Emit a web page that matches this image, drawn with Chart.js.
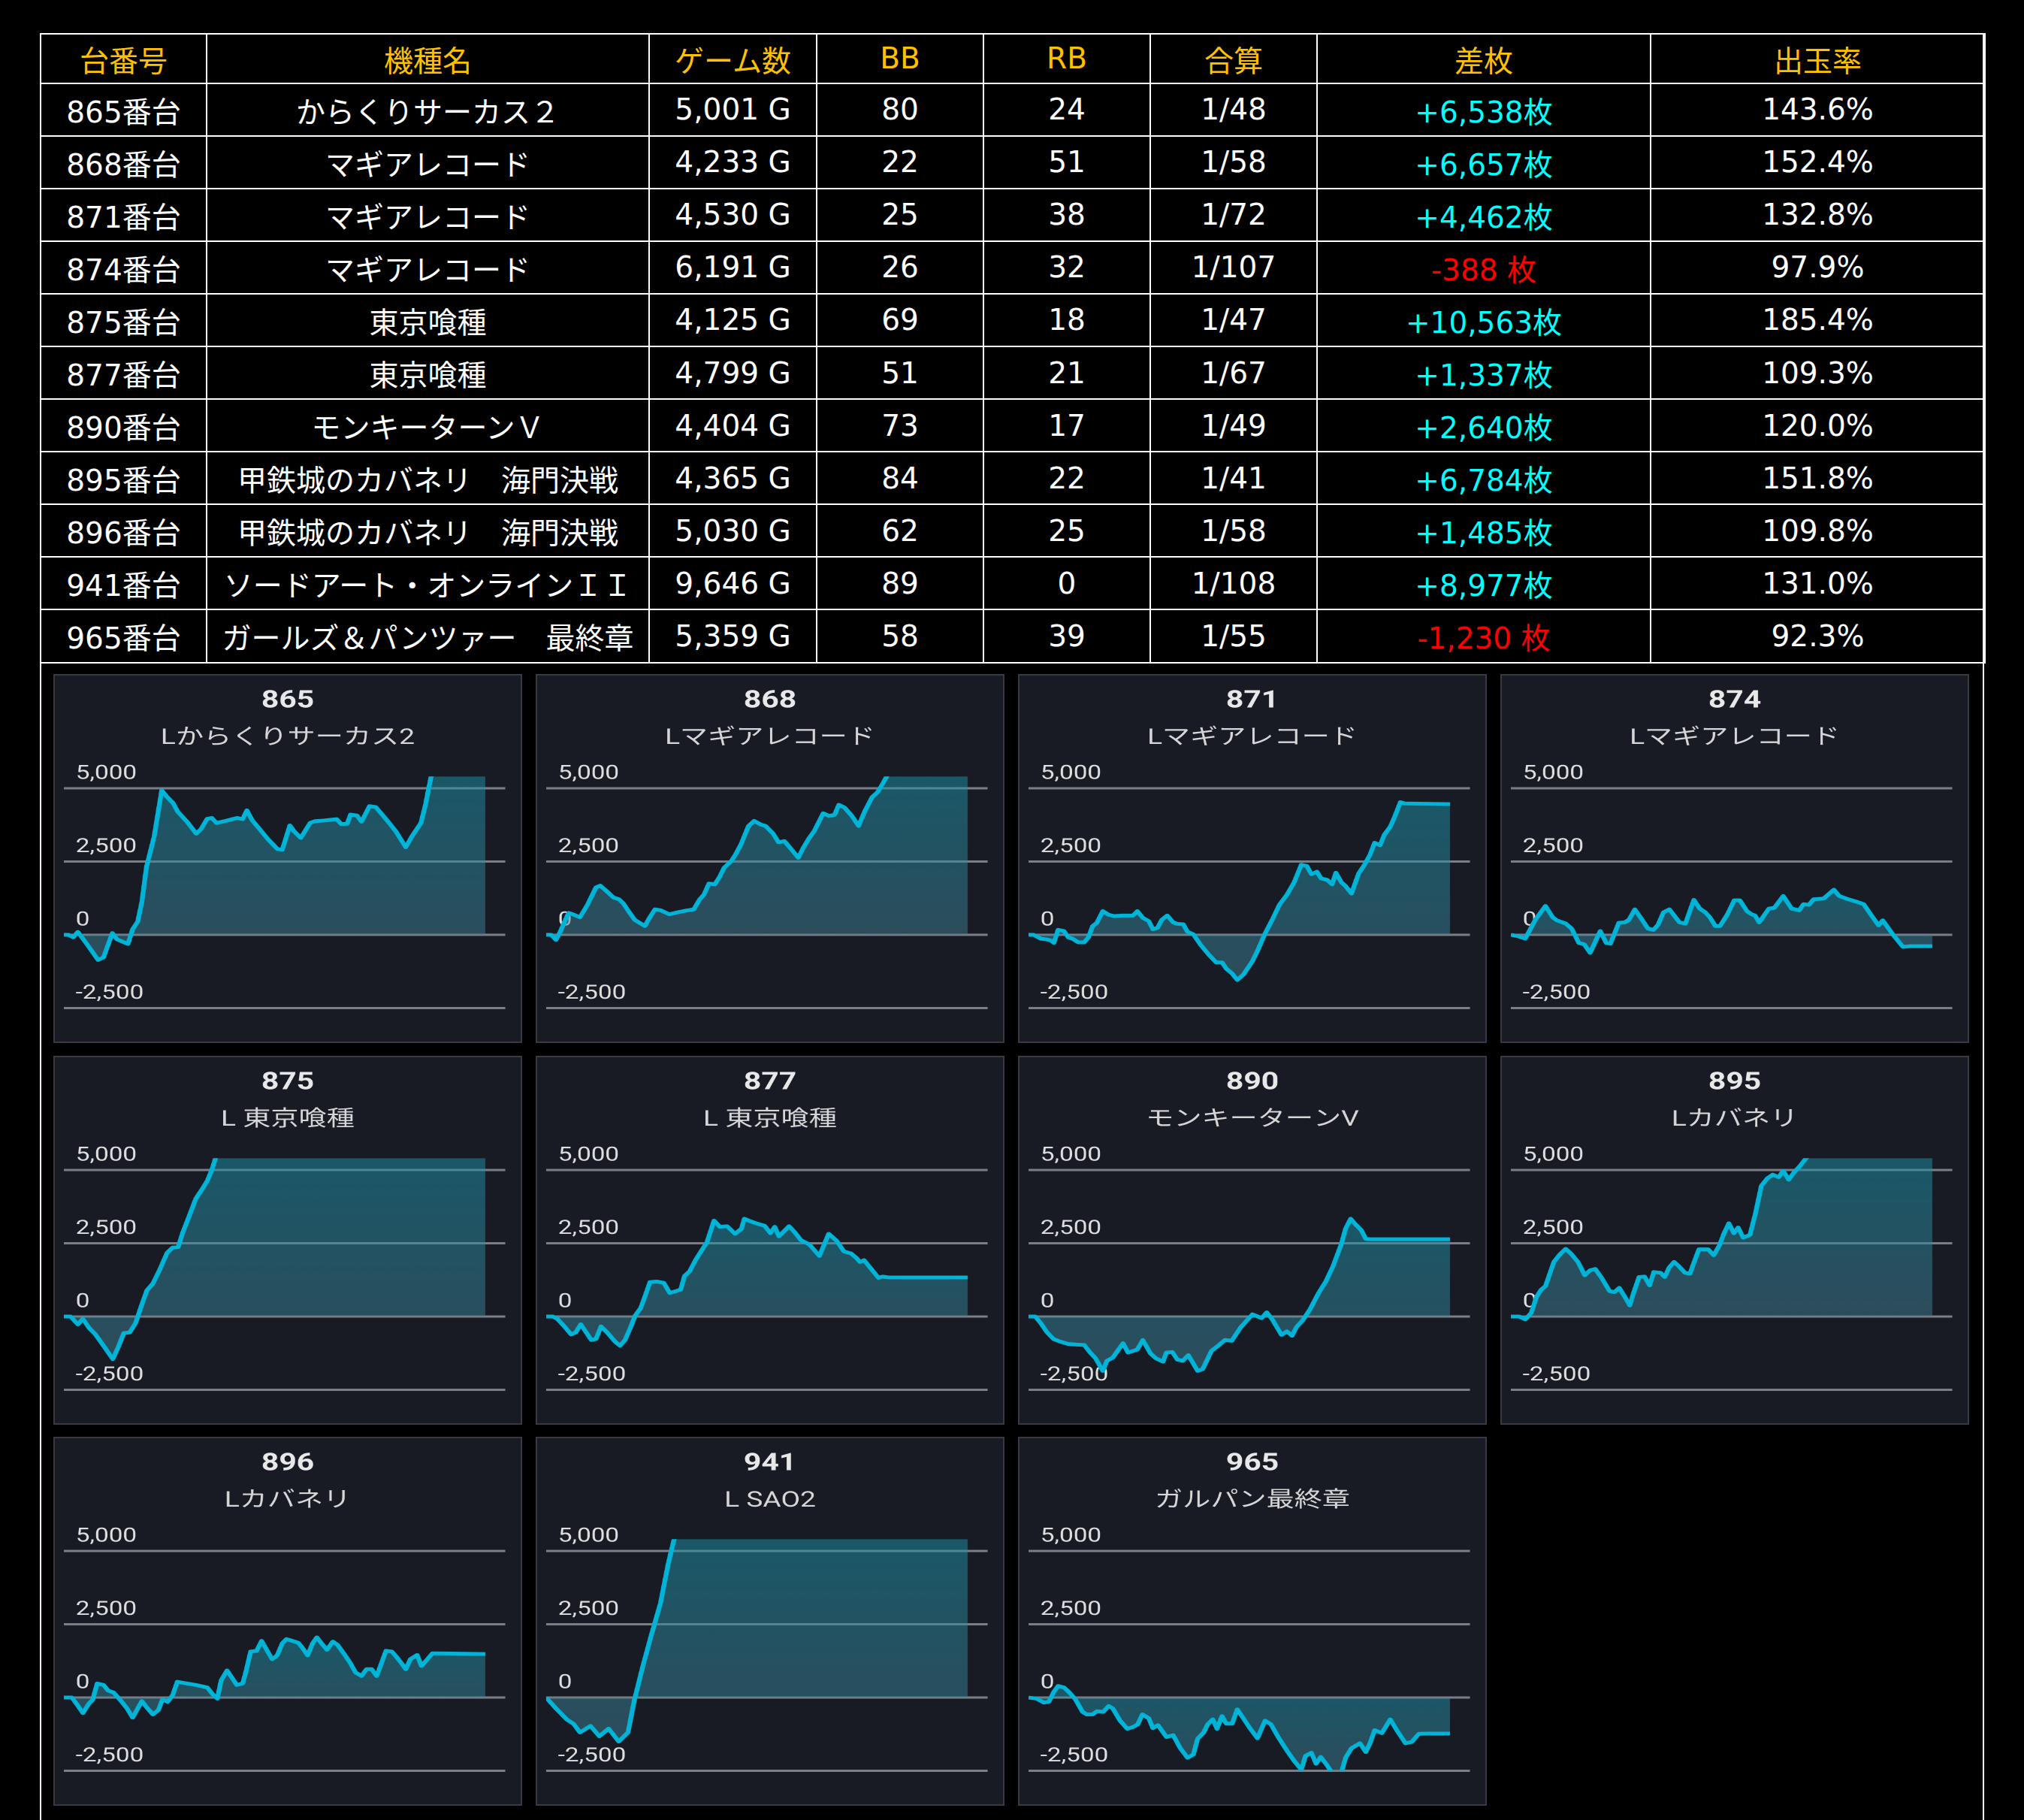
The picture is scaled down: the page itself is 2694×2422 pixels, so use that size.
<!DOCTYPE html>
<html><head><meta charset="utf-8">
<script src="https://cdn.jsdelivr.net/npm/chart.js@4.4.1/dist/chart.umd.min.js"></script>
<style>
html,body{margin:0;padding:0;background:#000;width:2694px;height:2422px;overflow:hidden;}
#tbl{position:absolute;left:53px;top:44px;width:2588px;border-collapse:collapse;table-layout:fixed;font-family:"DejaVu Sans","Noto Sans CJK JP",sans-serif;font-size:39px;color:#fff;}
#tbl td,#tbl th{border:2px solid #fff;text-align:center;vertical-align:middle;padding:0;white-space:nowrap;font-weight:normal;overflow:hidden;}
#tbl th{color:#ffc000;}
#tbl thead tr{height:65.5px;}
#tbl tbody tr{height:70.1px;}
.pos{color:#00ffff;}
.neg{color:#ff0000;}
.vline{position:absolute;top:44px;width:2px;height:2400px;background:#fff;}
.panel{position:absolute;width:624px;height:491px;background:#181b24;border:2px solid #373a43;box-sizing:border-box;overflow:hidden;}
.inner{position:absolute;left:0;top:0;width:484px;height:487px;transform:scaleX(1.281);transform-origin:0 0;}
</style></head><body>
<table id="tbl">
<colgroup><col style="width:221px"><col style="width:589px"><col style="width:223px"><col style="width:222px"><col style="width:222px"><col style="width:222px"><col style="width:444px"><col style="width:445px"></colgroup>
<thead><tr id="hdr"></tr></thead><tbody id="body"></tbody></table>
<div class="vline" style="left:53px"></div>
<div class="vline" style="left:2639px"></div>
<div id="panels"></div>
<script>
// ---------- table data ----------
const headers = ['台番号','機種名','ゲーム数','BB','RB','合算','差枚','出玉率'];
const machineNos = ['865番台','868番台','871番台','874番台','875番台','877番台','890番台','895番台','896番台','941番台','965番台'];
const modelNames = ['からくりサーカス２','マギアレコード','マギアレコード','マギアレコード','東京喰種','東京喰種','モンキーターンＶ','甲鉄城のカバネリ　海門決戦','甲鉄城のカバネリ　海門決戦','ソードアート・オンラインＩＩ','ガールズ＆パンツァー　最終章'];
const gameCounts = [5001,4233,4530,6191,4125,4799,4404,4365,5030,9646,5359];
const bbCounts = [80,22,25,26,69,51,73,84,62,89,58];
const rbCounts = [24,51,38,32,18,21,17,22,25,0,39];
const combinedOdds = ['1/48','1/58','1/72','1/107','1/47','1/67','1/49','1/41','1/58','1/108','1/55'];
const diffCoins = [6538,6657,4462,-388,10563,1337,2640,6784,1485,8977,-1230];
const payoutRates = [143.6,152.4,132.8,97.9,185.4,109.3,120.0,151.8,109.8,131.0,92.3];

// ---------- chart data ----------
const chartIds = ['865','868','871','874','875','877','890','895','896','941','965'];
const chartSubtitles = ['Lからくりサーカス2','Lマギアレコード','Lマギアレコード','Lマギアレコード','L 東京喰種','L 東京喰種','モンキーターンV','Lカバネリ','Lカバネリ','L SAO2','ガルパン最終章'];
const yTicks = [-2500, 0, 2500, 5000];
// [progress %, 差枚]
const s865 = [[0,0],[1.1,0],[2.2,-85],[3.3,100],[5.5,-325],[8.1,-855],[9.4,-770],[11.5,60],[12.6,-155],[15.2,-310],[16.3,190],[17.5,445],[18.5,1130],[19.6,2325],[21.4,3350],[23.2,4930],[24.4,4720],[25.9,4500],[27.0,4205],[29.2,3865],[31.4,3455],[32.5,3605],[34.0,3965],[35.1,3990],[36.2,3820],[38.1,3880],[39.9,3950],[41.1,3990],[42.4,3950],[43.4,4250],[44.7,3905],[46.2,3650],[48.4,3265],[50.7,2925],[51.8,2905],[53.6,3735],[54.7,3520],[56.2,3310],[58.4,3820],[59.5,3880],[61.8,3905],[64.7,3950],[65.8,3780],[67.2,3795],[68.0,4105],[69.5,4075],[70.6,3865],[72.5,4395],[74.0,4360],[76.9,3865],[78.8,3520],[81.1,2990],[82.5,3350],[84.7,3820],[85.8,4460],[86.5,4975],[87.1,5400],[89.1,5900],[92.1,6200],[95.8,6400],[100,6538]];
const s868 = [[0,0],[1.2,0],[2.3,-170],[3.3,100],[5.3,750],[6.3,700],[8.0,600],[9.8,1030],[11.8,1620],[12.8,1680],[14.5,1470],[15.9,1280],[17.3,1210],[18.3,1070],[19.6,790],[21.0,510],[23.4,300],[24.4,560],[25.8,870],[27.1,840],[29.2,700],[31.2,770],[33.3,830],[35.0,870],[36.4,1210],[37.4,1370],[38.6,1750],[40.0,1730],[41.1,1970],[42.2,2290],[43.9,2520],[44.9,2740],[46.2,3090],[48.0,3720],[49.3,3890],[51.0,3760],[52.0,3720],[53.8,3460],[55.1,3160],[56.5,3200],[58.2,2910],[59.8,2630],[60.9,2950],[62.3,3290],[63.6,3550],[65.7,4150],[67.1,4060],[68.4,4100],[69.4,4440],[70.8,4340],[72.5,4060],[74.1,3720],[75.6,4230],[77.3,4700],[78.6,4870],[79.7,5130],[81.0,5470],[83.8,5800],[87.9,6100],[92.0,6400],[96.0,6550],[100,6657]];
const s871 = [[0,0],[1.2,0],[2.9,-130],[4.3,-155],[5.3,-195],[6.0,-275],[7.0,170],[8.4,130],[9.4,-85],[10.4,-130],[11.8,-255],[13.2,-255],[14.2,-85],[15.2,300],[16.2,410],[17.6,810],[19.0,685],[20.3,640],[22.4,660],[24.8,660],[25.8,810],[27.1,580],[28.5,470],[29.5,190],[30.6,240],[31.6,515],[32.9,660],[34.3,425],[35.3,375],[36.7,360],[37.7,105],[39.1,15],[40.8,-340],[42.8,-685],[44.5,-940],[45.9,-940],[46.9,-1155],[48.3,-1325],[49.5,-1540],[51.0,-1350],[53.1,-900],[54.4,-515],[56.1,45],[57.8,515],[59.5,1025],[61.3,1370],[63.0,1795],[64.7,2395],[66.0,2350],[67.1,2070],[68.4,2155],[69.4,1925],[70.8,1880],[72.0,1725],[72.9,2120],[74.2,1795],[75.2,1665],[76.6,1410],[78.3,2095],[79.7,2395],[81.0,2735],[82.1,3145],[83.4,3060],[84.4,3420],[85.8,3690],[86.8,4015],[88.2,4530],[89.2,4485],[100,4462]];
const s874 = [[0,0],[1.7,-45],[3.4,-130],[5.8,515],[8.2,985],[9.9,600],[10.9,495],[13.0,385],[14.4,215],[16.1,-275],[17.4,-325],[18.8,-615],[21.2,130],[22.6,-275],[23.6,-300],[25.6,410],[27.0,425],[28.0,515],[29.4,870],[31.1,515],[32.5,215],[33.8,170],[34.9,340],[36.2,770],[37.6,870],[40.0,425],[41.4,385],[43.4,1195],[44.8,895],[46.1,770],[47.2,600],[48.5,300],[49.6,300],[51.3,685],[53.0,1180],[54.3,1180],[56.0,810],[57.1,700],[57.9,660],[58.9,425],[61.2,895],[62.5,925],[64.6,1325],[66.6,895],[68.4,840],[69.4,1045],[70.7,1025],[71.8,1215],[74.2,1240],[76.6,1540],[77.9,1325],[80.0,1215],[82.0,1130],[83.7,1045],[85.1,750],[87.2,325],[88.2,495],[90.6,15],[93.0,-410],[94.7,-388],[100,-388]];
const s875 = [[0,0],[1.6,0],[3.3,-265],[4.5,-75],[6.0,-395],[7.4,-595],[9.4,-995],[11.6,-1450],[12.9,-1040],[14.2,-565],[15.6,-540],[17.0,-225],[18.3,335],[19.7,895],[21.1,1125],[22.8,1625],[24.5,2180],[25.8,2355],[27.1,2370],[28.2,2870],[29.6,3385],[31.3,4030],[32.7,4330],[34.0,4630],[35.1,5015],[36.0,5420],[37.5,6500],[40.2,7800],[47.0,9200],[60.7,10000],[100,10563]];
const s877 = [[0,0],[1.6,0],[2.6,-75],[4.3,-335],[5.9,-610],[7.0,-540],[8.2,-265],[9.4,-525],[10.7,-800],[11.8,-765],[13.0,-335],[14.6,-565],[16.3,-850],[17.5,-995],[18.7,-800],[20.0,-370],[21.1,35],[22.4,290],[23.4,680],[24.6,1175],[26.2,1195],[27.9,1150],[29.3,805],[30.8,870],[31.9,920],[32.8,1385],[34.0,1540],[35.4,1925],[37.1,2310],[38.1,2525],[39.8,3275],[41.2,3065],[42.9,3085],[44.8,2825],[46.3,3000],[47.0,3340],[48.4,3255],[50.1,3170],[51.8,3100],[53.2,2845],[54.2,3065],[55.2,2740],[57.6,3085],[59.0,2870],[60.4,2610],[62.4,2465],[64.8,2070],[67.0,2825],[68.9,2585],[70.6,2225],[72.3,2155],[73.7,1985],[74.4,1865],[75.4,1925],[77.1,1625],[78.8,1325],[79.8,1365],[81.2,1337],[100,1337]];
const s890 = [[0,0],[1.6,0],[2.9,-225],[4.3,-525],[5.9,-765],[7.4,-850],[9.4,-935],[11.1,-955],[13.2,-970],[14.5,-1210],[15.9,-1425],[17.6,-1855],[18.6,-1510],[20.0,-1400],[22.4,-910],[23.6,-1230],[25.8,-1125],[27.1,-800],[28.9,-1255],[30.2,-1425],[31.9,-1540],[32.7,-1230],[34.1,-1210],[35.3,-1470],[36.6,-1510],[37.9,-1315],[40.1,-1855],[41.3,-1795],[43.4,-1170],[45.0,-995],[46.6,-800],[48.2,-825],[50.3,-370],[53.1,75],[55.3,-50],[56.5,145],[57.8,-95],[60.0,-625],[61.3,-505],[62.5,-655],[63.6,-350],[65.0,-135],[66.7,230],[68.8,805],[70.5,1195],[72.2,1710],[74.2,2480],[75.2,3000],[76.4,3340],[77.5,3155],[78.9,2955],[80.0,2655],[81.0,2640],[100,2640]];
const s895 = [[0,0],[2.0,0],[3.4,-95],[4.8,120],[6.1,680],[7.2,920],[8.2,1040],[10.2,1865],[11.6,2120],[13.0,2310],[14.3,2140],[15.9,1865],[17.5,1410],[18.8,1580],[20.0,1625],[21.5,1325],[23.4,870],[24.6,835],[25.7,980],[27.0,680],[28.2,380],[29.1,805],[30.4,1350],[31.7,1365],[32.9,1065],[33.9,1520],[35.5,1495],[36.5,1350],[37.5,1665],[38.7,1865],[39.9,1710],[41.3,1495],[42.5,1470],[43.3,1795],[44.6,2295],[46.8,2295],[48.1,2095],[49.5,2440],[50.5,2825],[51.7,3185],[52.9,2845],[53.9,3040],[55.1,2695],[56.7,2785],[58.0,3515],[59.4,4460],[60.8,4715],[62.1,4845],[63.5,4760],[64.6,4975],[65.9,4675],[67.2,4930],[68.6,5145],[70.0,5405],[72.7,5800],[76.8,6200],[82.3,6500],[89.1,6700],[100,6784]];
const s896 = [[0,0],[1.9,0],[3.3,-275],[4.5,-530],[6.0,-190],[6.8,-85],[7.9,480],[9.4,430],[10.5,240],[11.8,170],[13.5,-105],[15.0,-375],[16.3,-685],[18.5,-120],[19.7,-345],[21.1,-575],[22.4,-430],[23.4,-60],[24.6,-145],[25.8,85],[26.9,540],[28.6,495],[31.3,430],[34.0,345],[35.3,110],[36.4,-35],[37.3,585],[38.7,925],[40.1,625],[41.0,430],[42.4,480],[43.1,840],[44.3,1570],[45.7,1595],[46.9,1935],[48.1,1630],[49.4,1310],[50.6,1440],[51.8,1850],[52.8,1995],[54.2,1935],[55.6,1870],[56.6,1695],[57.8,1440],[59.0,1850],[60.0,2055],[61.0,1870],[62.4,1630],[63.8,1910],[64.9,1800],[66.5,1485],[67.9,1185],[69.2,855],[70.6,735],[71.8,970],[73.0,970],[74.2,735],[75.4,1200],[76.4,1595],[77.8,1570],[79.0,1370],[80.0,1185],[81.1,970],[82.2,1310],[83.8,1455],[84.8,1080],[86.0,1270],[87.4,1510],[88.7,1510],[100,1485]];
const s941 = [[0,0],[2.5,-400],[4.9,-750],[6.5,-900],[8.0,-1190],[10.5,-970],[12.6,-1320],[14.8,-1060],[17.2,-1500],[19.4,-1190],[20.9,-90],[22.8,1010],[24.9,2120],[27.1,3220],[28.9,4540],[30.2,5330],[32.6,6500],[41.8,8000],[60.3,8700],[100,8977]];
const s965 = [[0,0],[1.9,-35],[3.6,-170],[4.8,-145],[6.0,195],[7.0,395],[8.4,345],[9.8,155],[11.1,-60],[12.8,-490],[13.8,-575],[15.2,-575],[16.2,-470],[17.7,-490],[19.0,-290],[20.0,-375],[21.7,-790],[23.4,-1065],[24.8,-1005],[25.9,-915],[27.0,-575],[28.5,-705],[29.5,-1045],[30.7,-945],[32.7,-1345],[34.3,-1285],[36.0,-1730],[37.7,-2055],[39.1,-1945],[40.1,-1405],[41.5,-1200],[42.5,-915],[43.7,-745],[44.7,-1065],[45.9,-635],[46.9,-890],[48.3,-890],[49.5,-405],[51.0,-720],[52.5,-1045],[54.3,-1390],[56.1,-790],[57.5,-915],[59.2,-1345],[61.3,-1815],[63.0,-2160],[64.7,-2460],[65.7,-1990],[67.1,-1885],[68.2,-2260],[69.3,-2030],[70.7,-2290],[72.0,-2570],[73.2,-2675],[74.2,-2570],[75.2,-2055],[76.6,-1730],[78.6,-1560],[80.0,-1860],[81.0,-1560],[82.1,-1115],[83.8,-1215],[85.8,-745],[87.5,-1150],[89.4,-1560],[90.9,-1515],[92.6,-1235],[94.7,-1230],[100,-1230]];
const seriesList = [s865,s868,s871,s874,s875,s877,s890,s895,s896,s941,s965];

// ---------- build table ----------
const fmt = n => n.toLocaleString('en-US');
const hdr = document.getElementById('hdr');
headers.forEach(h => { const th = document.createElement('th'); th.textContent = h; hdr.appendChild(th); });
const tb = document.getElementById('body');
machineNos.forEach((no, i) => {
  const tr = document.createElement('tr');
  const d = diffCoins[i];
  const cells = [no, modelNames[i], fmt(gameCounts[i]) + ' G', String(bbCounts[i]), String(rbCounts[i]), combinedOdds[i],
    d >= 0 ? '+' + fmt(d) + '枚' : '-' + fmt(Math.abs(d)) + ' 枚', payoutRates[i].toFixed(1) + '%'];
  cells.forEach((c, j) => {
    const td = document.createElement('td');
    td.textContent = c;
    if (j === 6) td.className = d >= 0 ? 'pos' : 'neg';
    tr.appendChild(td);
  });
  tb.appendChild(tr);
});

// ---------- build charts ----------
const FONT = "Roboto, 'Noto Sans CJK JP', sans-serif";
function makeGrad(values) {
  return (ctx) => {
    const ch = ctx.chart, a = ch.chartArea;
    if (!a) return 'rgba(40,135,158,0.5)';
    const ys = ch.scales.y;
    let t = ys.getPixelForValue(Math.max(0, ...values));
    let b = ys.getPixelForValue(Math.min(0, ...values));
    t = Math.max(a.top, Math.min(a.bottom, t));
    b = Math.max(a.top, Math.min(a.bottom, b));
    if (b - t < 1) b = t + 1;
    const g = ch.ctx.createLinearGradient(0, t, 0, b);
    g.addColorStop(0, 'rgba(28,150,172,0.5)');
    g.addColorStop(1, 'rgba(66,126,146,0.5)');
    return g;
  };
}
const panels = document.getElementById('panels');
chartIds.forEach((id, i) => {
  const col = i % 4, row = Math.floor(i / 4);
  const p = document.createElement('div');
  p.className = 'panel';
  p.style.left = (71 + col * 642) + 'px';
  p.style.top = (897 + row * 507.5) + 'px';
  const inner = document.createElement('div');
  inner.className = 'inner';
  const cv = document.createElement('canvas');
  inner.appendChild(cv); p.appendChild(inner); panels.appendChild(p);
  const pts = seriesList[i].map(([x, y]) => ({x, y}));
  const vals = seriesList[i].map(q => q[1]);
  new Chart(cv, {
    type: 'line',
    data: { datasets: [{ data: pts, borderColor: '#00b4d8', borderWidth: 5, pointRadius: 0, pointHoverRadius: 0,
      tension: 0, fill: 'origin', backgroundColor: makeGrad(vals), clip: 0, borderJoinStyle: 'round' }] },
    options: {
      responsive: true, maintainAspectRatio: false, animation: false, devicePixelRatio: 2, events: [],
      layout: { padding: { left: 9.4, right: 9.4, top: 0, bottom: 44.5 } },
      plugins: {
        legend: { display: false }, tooltip: { enabled: false },
        title: { display: true, text: id, color: '#e8e8e8', font: { family: FONT, size: 32, weight: 'bold' }, padding: { top: 15.5, bottom: 11.5 } },
        subtitle: { display: true, text: chartSubtitles[i], color: '#d6d6d6', font: { family: FONT, size: 29, weight: 'normal' }, padding: { top: 1, bottom: 33 } }
      },
      scales: {
        x: { type: 'linear', min: 0, max: 104.7, display: false },
        y: { type: 'linear', min: -2500, max: 5410,
          afterBuildTicks: s => { s.ticks = yTicks.map(v => ({ value: v })); },
          afterFit: s => { s.width = 0; },
          border: { display: false },
          grid: { color: '#7b7e85', lineWidth: 3, drawTicks: false },
          ticks: { mirror: true, padding: 12.2, labelOffset: -19, color: '#dedede', font: { family: FONT, size: 26 },
            callback: v => fmt(v) } },
        yr: { type: 'linear', position: 'right', display: true, grid: { display: false, drawTicks: false },
          border: { display: false }, ticks: { display: false }, afterFit: s => { s.width = 6.6; } }
      }
    }
  });
});
</script>
</body></html>
